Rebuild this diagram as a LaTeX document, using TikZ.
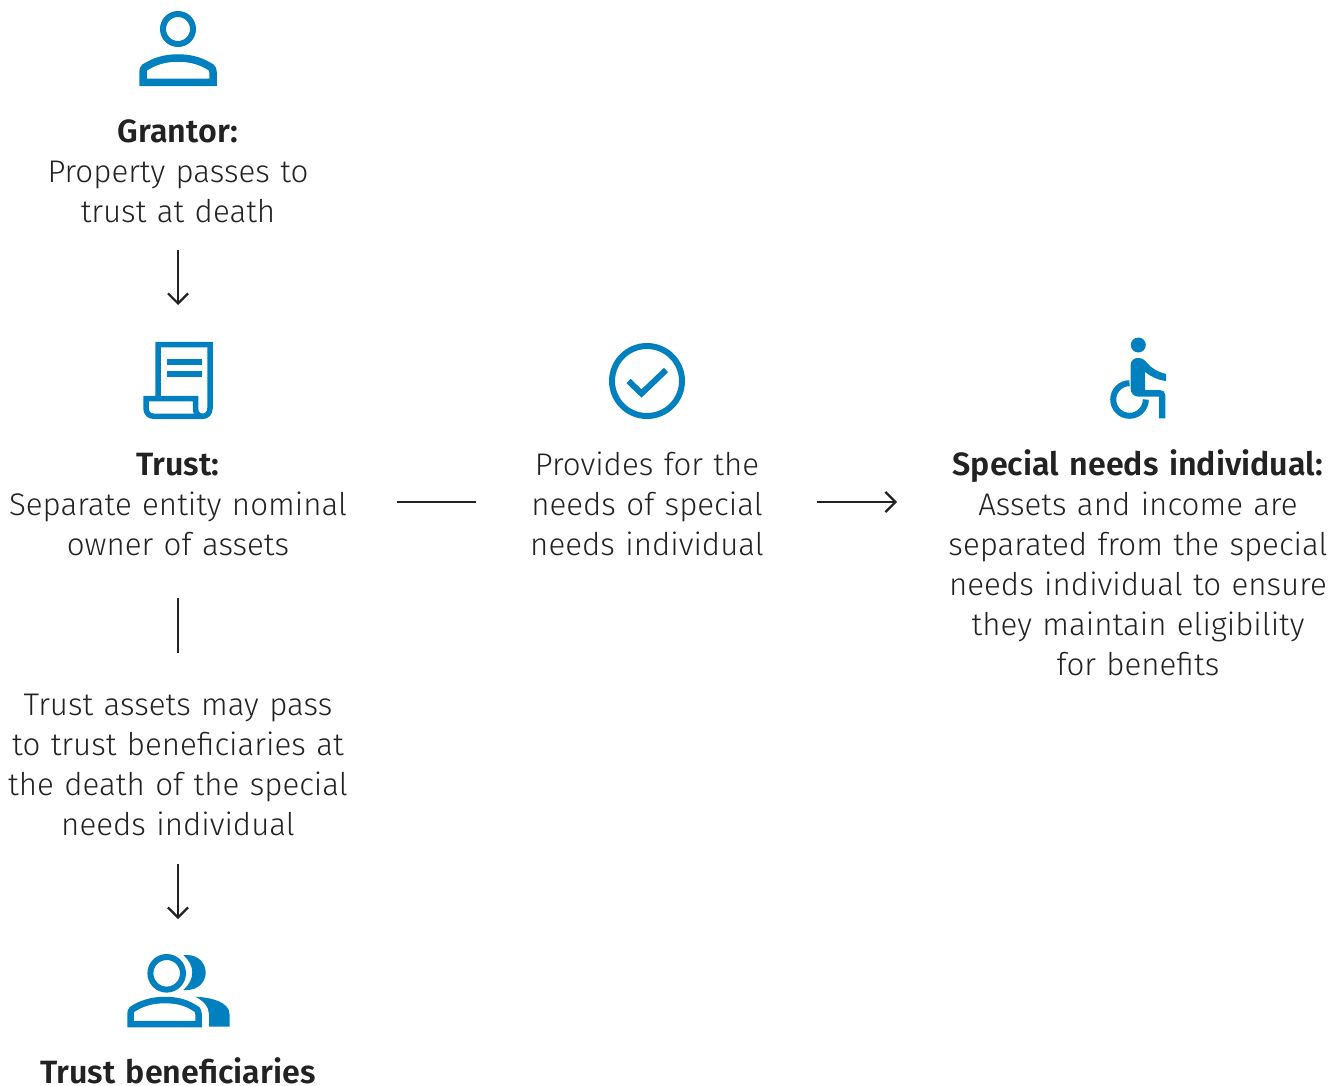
\documentclass[tikz,border=0pt]{standalone}
\usepackage{fontspec}
\setmainfont{Fira Sans Light}[BoldFont={Fira Sans SemiBold},BoldFeatures={Scale=1.03}]
\usetikzlibrary{arrows.meta}
\definecolor{iconblue}{HTML}{0080BF}
\definecolor{inkdark}{HTML}{222222}
\newcommand{\lns}[1]{\fontsize{31.3}{40}\selectfont\strut #1\strut}
\tikzset{
  txt/.style={anchor=north,inner sep=0pt,outer sep=0pt,align=center,text=inkdark,font=\fontsize{31.3}{40}\selectfont},
  iconbox/.style={inner sep=0pt,outer sep=0pt,minimum width=#1},
  conn/.style={draw=inkdark,line width=2.2pt},
  arr/.style={conn,-{Straight Barb[length=10pt,width=20pt,line width=2.2pt]}},
  ico/.style={draw=iconblue,line width=6pt,fill=none,miter limit=10},
  icof/.style={fill=iconblue,draw=none}
}
\begin{document}
\begin{tikzpicture}[x=1pt,y=-1pt]
\useasboundingbox (0,0) rectangle (1343,1086);
% icon anchors
\node[iconbox=80pt,minimum height=78pt] (granticon) at (178,48) {};
\node[iconbox=80pt,minimum height=78pt] (trusticon) at (178,381) {};
\node[iconbox=80pt,minimum height=78pt] (checkicon) at (647,381) {};
\node[iconbox=80pt,minimum height=78pt] (wheelicon) at (1138,381) {};
\node[iconbox=104pt,minimum height=72pt] (benicon) at (178,991) {};
% texts
\node[txt,text width=340pt] (grantor) at (178,115) {\lns{\textbf{Grantor:}}\\\lns{Property passes to}\\\lns{trust at death}};
\node[txt,text width=340pt] (trust) at (178,447) {\lns{\textbf{Trust:}}\\\lns{Separate entity nominal}\\\lns{owner of assets}};
\node[txt,text width=240pt] (provides) at (647,447) {\lns{Provides for the}\\\lns{needs of special}\\\lns{needs individual}};
\node[txt,text width=400pt] (special) at (1138,447) {\lns{\textbf{Special needs individual:}}\\\lns{Assets and income are}\\\lns{separated from the special}\\\lns{needs individual to ensure}\\\lns{they maintain eligibility}\\\lns{for benefits}};
\node[txt,text width=340pt] (pass) at (178,687) {\lns{Trust assets may pass}\\\lns{to trust beneficiaries at}\\\lns{the death of the special}\\\lns{needs individual}};
\node[txt,text width=340pt] (benef) at (178,1055) {\rule{0pt}{28pt}\textbf{Trust beneficiaries}};
% connectors
\draw[arr,shorten <=15pt,shorten >=37pt] (grantor.south) -- (trusticon.north);
\draw[conn,shorten <=31pt,shorten >=34pt] (trust.south) -- (pass.north);
\draw[arr,shorten <=17pt,shorten >=36pt] (pass.south) -- (benicon.north);
\draw[conn,shorten <=49pt,shorten >=51pt] ([yshift=5pt]trust.east) -- ([yshift=5pt]provides.west);
\draw[arr,shorten <=50pt,shorten >=41pt] ([yshift=5pt]provides.east) -- ([yshift=5pt]provides.east -| special.west);
% person icon
\draw[ico] (178,29) circle[radius=15];
\draw[ico,line width=7.5pt] (143,82.5) -- (143,72) .. controls (143,68) and (146,66) .. (149,65) .. controls (158,60) and (168,58) .. (178,58) .. controls (188,58) and (198,60) .. (207,65) .. controls (210,66) and (213,68) .. (213,72) -- (213,82.5) -- cycle;
% document icon
\draw[ico,line width=5.5pt] (158,398) -- (158,344.7) -- (210,344.7) -- (210,408) .. controls (210,413) and (207,416.3) .. (202.5,416.3) -- (154,416.3) .. controls (149,416.3) and (146,413) .. (146,408) -- (146,398.7) -- (195.5,398.7) -- (195.5,408) .. controls (195.5,413) and (198,416.3) .. (202.5,416.3);
\fill[iconblue] (166.7,359.3) rectangle (201.7,365);
\fill[iconblue] (166.7,371.3) rectangle (201.7,377);
% check icon
\draw[ico] (647,381) circle[radius=35];
\draw[ico] (628.5,381) -- (641.5,393.5) -- (666,370);
% wheelchair icon
\fill[iconblue] (1138.3,345) circle[radius=7.5];
\fill[iconblue] (1130.7,365) .. controls (1130.7,360.5) and (1134,358) .. (1138,358) .. controls (1142,358) and (1145,360) .. (1147,363) .. controls (1151,368) and (1158,372) .. (1166,374) -- (1166,381) .. controls (1158,380) and (1151,377) .. (1145,371.7) -- (1145,390) -- (1160,390) .. controls (1163,390) and (1165.3,392) .. (1165.3,395) -- (1165.3,418.3) -- (1159,418.3) -- (1159,396.7) -- (1139,396.7) .. controls (1134,396.7) and (1130.7,393.5) .. (1130.7,389) -- cycle;
\draw[ico] (1129.5,383.2) .. controls (1120.5,383.2) and (1113.2,390.5) .. (1113.2,399.5) .. controls (1113.2,408.5) and (1120.5,415.8) .. (1129.5,415.8) .. controls (1138.5,415.8) and (1145.8,408.5) .. (1145.8,399.5);
% beneficiaries icon
\draw[ico] (166.7,973.3) circle[radius=16.3];
\draw[ico,line width=6.5pt] (130.5,1024) -- (130.5,1014) .. controls (130.5,1010) and (133,1008) .. (136,1007) .. controls (145,1002) and (155,1000) .. (165,1000) .. controls (175,1000) and (185,1002) .. (193,1007) .. controls (196,1008) and (198.5,1010) .. (198.5,1014) -- (198.5,1024) -- cycle;
\fill[iconblue] (183.3,955) -- (187,955) .. controls (198,955) and (205.7,963) .. (205.7,972.5) .. controls (205.7,982) and (198,990) .. (187,990) -- (183.3,990) .. controls (189,985) and (192.3,979) .. (192.3,972.5) .. controls (192.3,966) and (189,960) .. (183.3,955) -- cycle;
\fill[iconblue] (195,996.7) .. controls (203,997) and (212,998.5) .. (218,1001) .. controls (225,1004) and (229.5,1008) .. (229.5,1014) -- (229.5,1026.7) -- (209,1026.7) -- (209,1014) .. controls (209,1007) and (203,1000) .. (195,996.7) -- cycle;
\end{tikzpicture}
\end{document}
